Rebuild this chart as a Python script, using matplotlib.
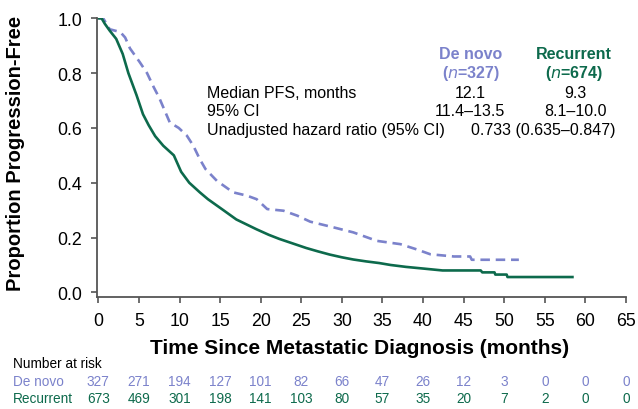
import numpy as np
import matplotlib.pyplot as plt
from matplotlib.transforms import blended_transform_factory

plt.rcParams['font.family'] = ['Liberation Sans', 'DejaVu Sans']

blue = '#7B82CB'
green = '#0D6A4C'

# Kaplan-Meier curves (months, proportion progression-free)
denovo_t = [0, 0.6, 1.4, 2.7, 3.3, 3.9, 5.1, 6.0, 6.8, 7.5, 8.8, 9.9, 10.9, 11.7,
            12.5, 13.2, 14.6, 16.6, 18.3, 19.5, 20.8, 22.8, 24.5, 26.1, 29.0, 31.4,
            34.3, 37.2, 39.2, 40.9, 43.8, 45.8, 46.0, 51.8]
denovo_s = [1.0, 1.0, 0.96, 0.95, 0.93, 0.89, 0.84, 0.80, 0.75, 0.71, 0.62, 0.60, 0.572, 0.535,
            0.486, 0.45, 0.407, 0.365, 0.353, 0.34, 0.304, 0.298, 0.28, 0.258, 0.237, 0.219,
            0.188, 0.176, 0.157, 0.139, 0.131, 0.131, 0.119, 0.119]

recur_t = [0, 0.4, 0.8, 1.4, 2.2, 3.0, 3.7, 4.7, 5.5, 6.2, 7.0, 8.0, 9.3, 10.2, 11.2,
           12.5, 13.5, 15.4, 17.0, 19.5, 21.0, 22.3, 24.0, 25.6, 27.0, 28.5, 30.0, 31.4,
           33.0, 34.6, 36.0, 37.9, 40.0, 42.4, 47.1, 47.3, 48.8, 48.9, 50.3, 50.4, 58.4]
recur_s = [1.0, 1.0, 0.98, 0.955, 0.925, 0.87, 0.80, 0.72, 0.65, 0.61, 0.57, 0.535, 0.50, 0.44, 0.40,
           0.365, 0.34, 0.30, 0.266, 0.23, 0.21, 0.195, 0.178, 0.162, 0.15, 0.138, 0.128, 0.12,
           0.113, 0.107, 0.10, 0.093, 0.087, 0.08, 0.08, 0.073, 0.073, 0.065, 0.065, 0.056, 0.056]

# number at risk
risk_times = list(range(0, 70, 5))
risk_denovo = [327, 271, 194, 127, 101, 82, 66, 47, 26, 12, 3, 0, 0, 0]
risk_recur = [673, 469, 301, 198, 141, 103, 80, 57, 35, 20, 7, 2, 0, 0]

# summary table
row_labels = ['Median PFS, months', '95% CI', 'Unadjusted hazard ratio (95% CI)']
denovo_vals = ['12.1', '11.4\u201313.5']
recur_vals = ['9.3', '8.1\u201310.0']
hr_text = '0.733 (0.635\u20130.847)'

fig = plt.figure(figsize=(6.38, 4.10), dpi=100)
ax = fig.add_axes([0.1516, 0.2724, 0.8296, 0.6805])

ax.plot(denovo_t, denovo_s, color=blue, lw=1.9, dashes=(3.6, 2.2))
ax.plot(recur_t, recur_s, color=green, lw=1.9)

ax.set_xlim(-0.2, 65)
ax.set_ylim(-0.018, 1.0)
ax.set_xticks(np.arange(0, 70, 5))
ax.set_yticks(np.arange(0, 1.2, 0.2))
ax.yaxis.set_major_formatter(plt.FormatStrFormatter('%.1f'))
for s in ['top', 'right']:
    ax.spines[s].set_visible(False)
for s in ['left', 'bottom']:
    ax.spines[s].set_color('#555555')
    ax.spines[s].set_linewidth(1.3)
ax.tick_params(direction='out', length=4.3, width=1.2, color='#555555', labelsize=12.8, pad=6)

ax.set_xlabel('Time Since Metastatic Diagnosis (months)', fontsize=15, fontweight='bold')
ax.xaxis.set_label_coords(0.497, -0.145)
ax.set_ylabel('Proportion Progression-Free', fontsize=14.5, fontweight='bold')
ax.yaxis.set_label_coords(-0.135, 0.52)

# table inside the plot
fs = 11.5
ax.text(45.9, 0.87, 'De novo', color=blue, fontsize=fs, fontweight='bold', ha='center', va='center')
ax.text(45.9, 0.804, '($\\mathit{n}$=327)', color=blue, fontsize=fs, fontweight='bold', ha='center', va='center')
ax.text(58.6, 0.87, 'Recurrent', color=green, fontsize=fs, fontweight='bold', ha='center', va='center')
ax.text(58.6, 0.804, '($\\mathit{n}$=674)', color=green, fontsize=fs, fontweight='bold', ha='center', va='center')
row_y = [0.731, 0.662, 0.595]
for lab, y in zip(row_labels, row_y):
    ax.text(13.4, y, lab, fontsize=fs, ha='left', va='center')
for v, y in zip(denovo_vals, row_y):
    ax.text(45.8, y, v, fontsize=fs, ha='center', va='center')
for v, y in zip(recur_vals, row_y):
    ax.text(58.8, y, v, fontsize=fs, ha='center', va='center')
ax.text(45.9, row_y[2], hr_text, fontsize=fs, ha='left', va='center')

# number at risk table, columns under the x ticks
tr = blended_transform_factory(ax.transData, fig.transFigure)
fig.text(13 / 638, 1 - 364 / 410, 'Number at risk', fontsize=9.8, va='center')
fig.text(13 / 638, 1 - 382 / 410, 'De novo', fontsize=9.8, va='center', color=blue)
fig.text(13 / 638, 1 - 399 / 410, 'Recurrent', fontsize=9.8, va='center', color=green)
for t, a, b in zip(risk_times, risk_denovo, risk_recur):
    ax.text(t, 1 - 382 / 410, str(a), transform=tr, fontsize=9.8, ha='center', va='center',
            color=blue, clip_on=False)
    ax.text(t, 1 - 399 / 410, str(b), transform=tr, fontsize=9.8, ha='center', va='center',
            color=green, clip_on=False)

fig.savefig('out.png', dpi=100)
